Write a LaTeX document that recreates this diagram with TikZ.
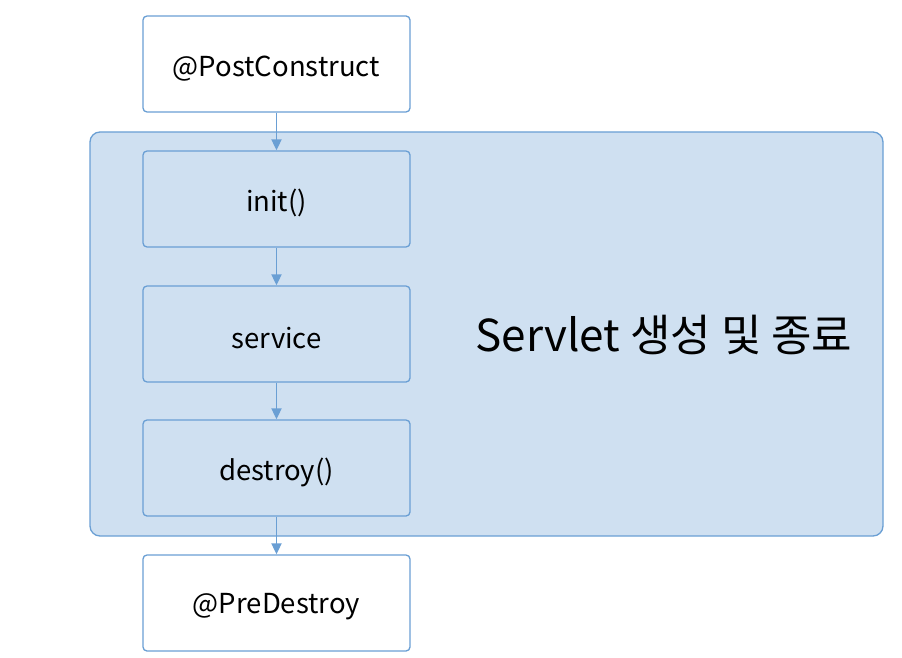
\documentclass[tikz,border=0pt]{standalone}
\usepackage{fontspec}
\setmainfont{Noto Sans CJK KR}
\usetikzlibrary{arrows.meta}
\definecolor{bord}{HTML}{6A9FD4}
\definecolor{lfill}{HTML}{CFE0F1}
\begin{document}
\begin{tikzpicture}[x=1pt,y=-1pt,
  stepbox/.style={draw=bord,line width=1.3pt,rounded corners=4pt,minimum width=267pt,minimum height=96pt,inner sep=0pt},
  lbl/.style={font=\fontsize{27.5}{32}\selectfont,inner sep=0pt,anchor=center},
  flow/.style={draw=bord,line width=1.8pt,-{Triangle[length=11pt,width=10pt]}}]
\useasboundingbox (0,0) rectangle (902,658);
\fill[white] (0,0) rectangle (902,658);
\node[draw=bord,fill=lfill,line width=1.3pt,rounded corners=10pt,minimum width=793pt,minimum height=404pt,inner sep=0pt] (cont) at (486.5,334) {};
\node[stepbox,fill=white] (pc) at (276.5,64) {};
\node[stepbox,fill=lfill] (init) at (276.5,199) {};
\node[stepbox,fill=lfill] (serv) at (276.5,334) {};
\node[stepbox,fill=lfill] (dest) at (276.5,468) {};
\node[stepbox,fill=white] (pd) at (276.5,603) {};
\node[lbl] (tpc) at (276.5,69) {@PostConstruct};
\node[lbl] (tinit) at (276.5,203) {init()};
\node[lbl] (tserv) at (276.5,338) {service};
\node[lbl] (tdest) at (276.5,472) {destroy()};
\node[lbl] (tpd) at (276.5,607) {@PreDestroy};
\node[font=\fontsize{44}{50}\selectfont,inner sep=0pt] (title) at (664,335) {Servlet 생성 및 종료};
\draw[flow] (pc) -- (init);
\draw[flow] (init) -- (serv);
\draw[flow] (serv) -- (dest);
\draw[flow] (dest) -- (pd);
\end{tikzpicture}
\end{document}
